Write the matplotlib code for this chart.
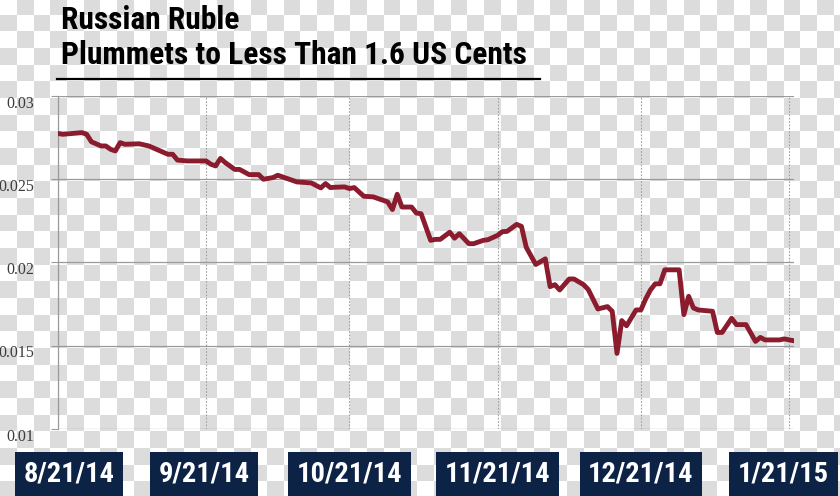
import numpy as np
import matplotlib
matplotlib.use("Agg")
import matplotlib.pyplot as plt
import matplotlib.dates as mdates
import matplotlib.transforms as mtransforms
from matplotlib import font_manager as fm

# ---------------- data ----------------
dates = [
    "2014-08-21", "2014-08-22", "2014-08-26", "2014-08-27", "2014-08-28", "2014-08-30",
    "2014-08-31", "2014-09-01", "2014-09-02", "2014-09-03", "2014-09-04", "2014-09-07",
    "2014-09-09", "2014-09-11", "2014-09-13", "2014-09-14", "2014-09-15", "2014-09-17",
    "2014-09-21", "2014-09-22", "2014-09-23", "2014-09-24", "2014-09-25", "2014-09-27",
    "2014-09-28", "2014-09-30", "2014-10-02", "2014-10-03", "2014-10-05", "2014-10-06",
    "2014-10-08", "2014-10-10", "2014-10-13", "2014-10-15", "2014-10-16", "2014-10-17",
    "2014-10-18", "2014-10-20", "2014-10-21", "2014-10-22", "2014-10-23", "2014-10-24",
    "2014-10-26", "2014-10-29", "2014-10-30", "2014-10-31", "2014-11-01", "2014-11-03",
    "2014-11-04", "2014-11-05", "2014-11-07", "2014-11-08", "2014-11-09", "2014-11-11",
    "2014-11-12", "2014-11-13", "2014-11-15", "2014-11-16", "2014-11-18", "2014-11-19",
    "2014-11-21", "2014-11-22", "2014-11-23", "2014-11-25", "2014-11-26", "2014-11-27",
    "2014-11-29", "2014-12-01", "2014-12-02", "2014-12-03", "2014-12-04", "2014-12-06",
    "2014-12-07", "2014-12-09", "2014-12-10", "2014-12-12", "2014-12-14", "2014-12-15",
    "2014-12-16", "2014-12-17", "2014-12-18", "2014-12-20", "2014-12-21", "2014-12-22",
    "2014-12-23", "2014-12-24", "2014-12-25", "2014-12-26", "2014-12-29", "2014-12-30",
    "2014-12-31", "2015-01-01", "2015-01-02", "2015-01-05", "2015-01-06", "2015-01-07",
    "2015-01-09", "2015-01-10", "2015-01-12", "2015-01-14", "2015-01-15", "2015-01-16",
    "2015-01-19", "2015-01-20", "2015-01-22",
]
usd_per_rub = [
    0.02775, 0.0277, 0.0278, 0.0277, 0.02725, 0.0270,
    0.0270, 0.0268, 0.0267, 0.0272, 0.0271, 0.02713,
    0.0270, 0.02675, 0.0265, 0.0265, 0.02615, 0.0261,
    0.0261, 0.0259, 0.0258, 0.02625, 0.0260, 0.02559,
    0.02559, 0.02528, 0.02528, 0.0250, 0.0251, 0.02524,
    0.02504, 0.02484, 0.02478, 0.02448, 0.02474, 0.0245,
    0.02452, 0.02454, 0.02444, 0.0245, 0.02424, 0.02398,
    0.02394, 0.02364, 0.02318, 0.0241, 0.02333, 0.02333,
    0.02297, 0.02293, 0.02133, 0.02139, 0.02139, 0.02182,
    0.02146, 0.02173, 0.02113, 0.02113, 0.02133, 0.02137,
    0.02163, 0.02185, 0.02187, 0.02229, 0.02217, 0.02092,
    0.01988, 0.02022, 0.01855, 0.01867, 0.01835, 0.01901,
    0.01901, 0.01867, 0.01837, 0.01721, 0.01735, 0.01707,
    0.01454, 0.01651, 0.0162, 0.01715, 0.01715, 0.01781,
    0.01835, 0.01872, 0.01872, 0.01956, 0.01956, 0.01687,
    0.01797, 0.01727, 0.01715, 0.01707, 0.0158, 0.0158,
    0.01665, 0.01627, 0.01627, 0.01526, 0.0155, 0.01535,
    0.01535, 0.01541, 0.0153,
]
tick_dates = ["2014-08-21", "2014-09-21", "2014-10-21", "2014-11-21", "2014-12-21", "2015-01-21"]
tick_labels = ["8/21/14", "9/21/14", "10/21/14", "11/21/14", "12/21/14", "1/21/15"]
y_ticks = [0.01, 0.015, 0.02, 0.025, 0.03]
y_tick_labels = ["0.01", "0.015", "0.02", "0.025", "0.03"]
title_lines = ["Russian Ruble", "Plummets to Less Than 1.6 US Cents"]


# ---------------- font choice: a bold condensed sans if one is installed ----------------
def pick_condensed_bold():
    best = None
    for f in fm.fontManager.ttflist:
        name = (f.name + " " + f.fname).lower()
        cond = ("narrow" in name or "condensed" in name or
                str(f.stretch) in ("condensed", "semi-condensed", "extra-condensed"))
        w = f.weight if isinstance(f.weight, int) else fm.weight_dict.get(f.weight, 400)
        if cond and w >= 600 and "italic" not in name and "oblique" not in name:
            score = 0 if "liberation" in name else (1 if "roboto" in name else 2)
            if best is None or score < best[0]:
                best = (score, f.fname)
    if best:
        return fm.FontProperties(fname=best[1]), True
    return fm.FontProperties(family=["Roboto", "DejaVu Sans"], weight="bold"), False


head_fp, is_cond = pick_condensed_bold()
title_size = 22.7 if is_cond else 19
box_size = 20.5 if is_cond else 17

# ---------------- figure ----------------
W, H, DPI = 840, 496, 100
fig = plt.figure(figsize=(W / DPI, H / DPI), dpi=DPI)
fig.patch.set_alpha(0)

# checkerboard backdrop (transparency pattern of the reference)
cell = 50 / 3
yy, xx = np.mgrid[0:H, 0:W]
chk = ((np.floor(xx / cell) + np.floor((yy + 2.5) / cell)) % 2).astype(bool)
img = np.ones((H, W, 3))
img[chk] = np.array([220, 220, 220]) / 255
fig.figimage(img, xo=0, yo=0, origin="upper", zorder=-10)

ax = fig.add_axes([58 / W, 67 / H, (794 - 58) / W, (429 - 96) / H])
ax.set_zorder(5)
ax.patch.set_alpha(0)

x = [mdates.datestr2num(d) for d in dates]
ax.plot(x, usd_per_rub, color="#8b1c2d", lw=3.5, solid_joinstyle="round",
        solid_capstyle="round", zorder=3)

x0 = mdates.datestr2num(tick_dates[0])
ax.set_xlim(x0, x0 + 154.05)
ax.set_ylim(0.01, 0.03)

xt = [mdates.datestr2num(d) for d in tick_dates]
ax.set_xticks(xt)
ax.set_xticklabels([])
ax.tick_params(axis="x", length=0)
ax.set_yticks(y_ticks)
ax.set_yticklabels(y_tick_labels, family=["Liberation Serif", "DejaVu Serif"],
                   fontsize=11.5, color="#3c3c3c")
ax.tick_params(axis="y", length=5, width=0.8, color="#9a9a9a", pad=12)
for lbl in ax.get_yticklabels():
    lbl.set_transform(lbl.get_transform() +
                      mtransforms.ScaledTranslation(0, -4 / 72, fig.dpi_scale_trans))

ax.grid(axis="y", color="#9a9a9a", lw=0.9, ls="-")
ax.grid(axis="x", color="#a0a0a0", lw=0.8, ls=(0, (1.5, 1.5)))
for s in ["top", "right", "bottom"]:
    ax.spines[s].set_visible(False)
ax.spines["left"].set_color("#9a9a9a")
ax.spines["left"].set_linewidth(0.9)

# date boxes
offsets_px = [11, -2, 0, 0, 0, -5.5]
for d, lab, off in zip(xt, tick_labels, offsets_px):
    tr = mtransforms.blended_transform_factory(ax.transData, fig.transFigure)
    tr = tr + mtransforms.ScaledTranslation(off / DPI, 0, fig.dpi_scale_trans)
    ax.text(d, 22 / H, lab, transform=tr, ha="center", va="center",
            fontproperties=head_fp, fontsize=box_size, color="white", clip_on=False,
            bbox=dict(boxstyle="square,pad=0.3", fc="#0c2346", ec="none"))

# title
fig.text(61 / W, 1 - 29 / H, title_lines[0], ha="left", va="baseline",
         fontproperties=head_fp, fontsize=title_size, color="black", zorder=6)
fig.text(61 / W, 1 - 64 / H, title_lines[1], ha="left", va="baseline",
         fontproperties=head_fp, fontsize=title_size, color="black", zorder=6)
fig.add_artist(plt.Line2D([57 / W, 540 / W], [1 - 79 / H, 1 - 79 / H],
                          transform=fig.transFigure, color="black", lw=1.6))

fig.savefig("out.png", dpi=DPI)
